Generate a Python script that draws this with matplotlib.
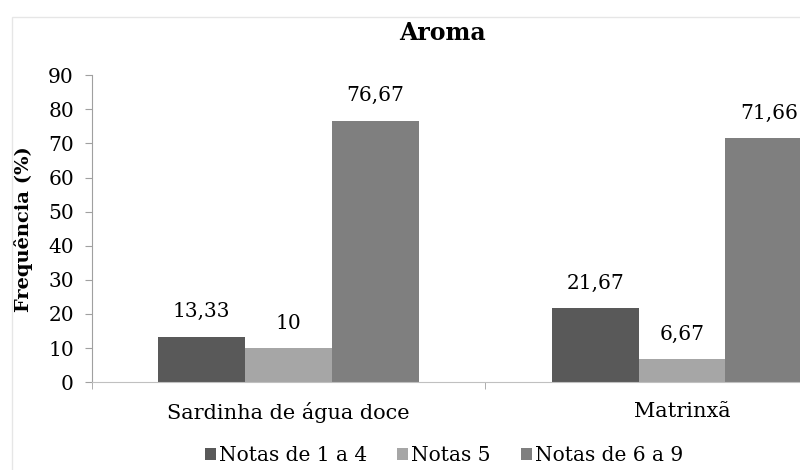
import matplotlib.pyplot as plt
from matplotlib.patches import Rectangle
import numpy as np

categories = ["Sardinha de água doce", "Matrinxã"]
series_names = ["Notas de 1 a 4", "Notas 5", "Notas de 6 a 9"]
notas_1_4 = [13.33, 21.67]
notas_5 = [10, 6.67]
notas_6_9 = [76.67, 71.66]
colors = ["#595959", "#a6a6a6", "#7f7f7f"]

plt.rcParams["font.family"] = ["DejaVu Serif"]

fig = plt.figure(figsize=(8, 4.7), dpi=100)
ax = fig.add_axes([0.115, 0.187, 0.885, 0.653])

# faint outer chart border (cropped at right/bottom like the source)
fig.patches.append(Rectangle((12 / 800, -0.1), 1.2, 1 - 17 / 470 + 0.1,
                             transform=fig.transFigure, fill=False,
                             edgecolor="#e6e6e6", linewidth=1))

x = np.arange(len(categories))
w = 0.221
for i, (vals, name) in enumerate(zip([notas_1_4, notas_5, notas_6_9], series_names)):
    bars = ax.bar(x + (i - 1) * w, vals, w, color=colors[i], label=name)
    for b, v in zip(bars, vals):
        ax.annotate(f"{v:g}".replace(".", ","), (b.get_x() + b.get_width() / 2, v),
                    xytext=(0, 11), textcoords="offset points",
                    ha="center", va="bottom", fontsize=14.5)

ax.set_yticks(range(0, 91, 10))
ax.set_xticks(x)
ax.set_xticklabels(categories)
ax.set_xticks([-0.5, 0.5, 1.5], minor=True)
ax.set_xlim(-0.5, 1.30)
ax.set_ylim(0, 90)
ax.tick_params(axis="x", which="major", length=0, labelsize=15, pad=14)
ax.tick_params(axis="x", which="minor", length=5, color="#a0a0a0")
ax.tick_params(axis="y", length=5, color="#a0a0a0", labelsize=14.5, pad=8)

for s in ["top", "right"]:
    ax.spines[s].set_visible(False)
ax.spines["left"].set_color("#a0a0a0")
ax.spines["bottom"].set_color("#c0c0c0")

ax.set_ylabel("Frequência (%)", fontsize=14, fontweight="bold", labelpad=11)
fig.text(0.553, 0.93, "Aroma", ha="center", va="center",
         fontsize=17, fontweight="bold")

fig.legend(loc="center", bbox_to_anchor=(0.555, 0.03), ncol=3, frameon=False,
           fontsize=14.5, handlelength=0.55, handleheight=0.55, handletextpad=0.15,
           columnspacing=1.5, borderpad=0.1)

fig.savefig("out.png", dpi=100)
